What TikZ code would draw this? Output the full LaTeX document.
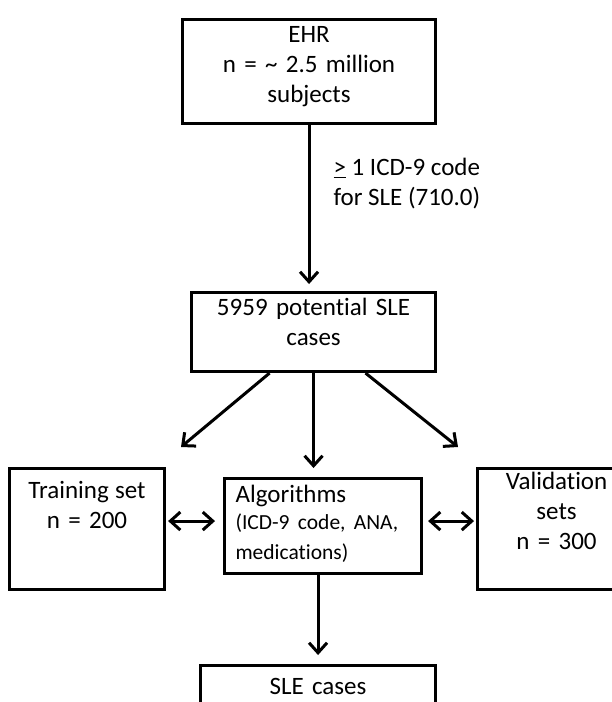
\documentclass[tikz,border=0pt]{standalone}
\usepackage{fontspec}
\setmainfont{Carlito}[Ligatures=NoCommon]
\usetikzlibrary{positioning,arrows.meta}

\tikzset{
  box/.style={draw, line width=3.1pt, inner xsep=4pt, inner ysep=0pt, anchor=north west, align=center},
  link/.style={line width=3pt, -{Straight Barb[length=10pt,width=18pt]}},
  both/.style={line width=3pt, {Straight Barb[length=10pt,width=18pt]}-{Straight Barb[length=10pt,width=18pt]}},
}

\begin{document}
\begin{tikzpicture}[x=1pt, y=-1pt, font=\fontsize{25}{30}\selectfont]

\useasboundingbox (0,0) rectangle (612,702);
\fill[white] (0,0) rectangle (612,702);
\clip (0,0) rectangle (612,702);


\node[box, text width=245pt, text height=23pt, text depth=81pt] (ehr) at (181,18)
  {EHR\\ n = \textasciitilde\ 2.5 million\\ subjects};

\node[box, text width=236pt, text height=23pt, text depth=56pt] (pot) at (190,291)
  {5959 potential SLE\\ cases};

\node[box, text width=147pt, text height=30pt, text depth=91pt] (train) at (8,467)
  {Training\hspace{-2pt} set\\ n = 200};

\node[box, align=left, inner xsep=11pt, text width=175pt, text height=24pt, text depth=71pt] (algo) at (223,477)
  {Algorithms\\ \fontsize{21.5}{27}\selectfont (ICD-9 code, ANA,\\ medications)};

\node[box, text width=150pt, text height=21pt, text depth=100pt] (valid) at (476,467)
  {Validation\\ sets\\ n = 300};

\node[box, text width=227pt, text height=29pt, text depth=47pt] (sle) at (199,664)
  {SLE cases};


\node[anchor=west, align=left] (crit) at (330,184) {\underline{>} 1 ICD-9 code\\ for SLE (710.0)};


\coordinate (toTrain) at (181,447);
\coordinate (toValid) at (458,447);


\draw[link, shorten >=7pt] (ehr.south) -- (ehr.south |- pot.north);

\draw[link] ([xshift=-44pt]pot.south) -- (toTrain);
\draw[link, shorten >=9pt] (pot.south) -- (pot.south |- algo.north);
\draw[link] ([xshift=52pt]pot.south) -- (toValid);

\draw[both, shorten <=2pt, shorten >=8pt] ([yshift=8pt]train.east) -- ([yshift=8pt]train.east -| algo.west);
\draw[both, shorten <=5pt, shorten >=2pt] ([yshift=5pt]algo.east) -- ([yshift=5pt]algo.east -| valid.west);

\draw[link, shorten >=9pt] ([xshift=-5pt]algo.south) -- ([xshift=-5pt]algo.south |- sle.north);

\end{tikzpicture}
\end{document}
